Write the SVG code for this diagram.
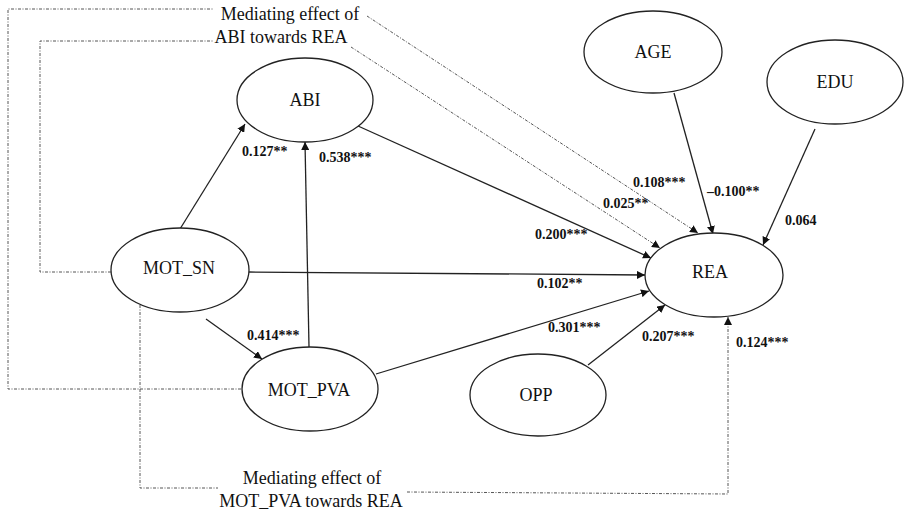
<svg xmlns="http://www.w3.org/2000/svg" width="904" height="511" viewBox="0 0 904 511">
<style>
.node ellipse{fill:#fff;stroke:#222;stroke-width:1.3}
.node text{font-family:"Liberation Serif","Times New Roman",serif;font-size:18px;fill:#111;text-anchor:middle}
.edge{stroke:#222;stroke-width:1.3;fill:none}
.dot{stroke:#555;stroke-width:1;fill:none;stroke-dasharray:3 1.5 1 1.5}
.coef{font-family:"Liberation Serif","Times New Roman",serif;font-size:14px;font-weight:bold;fill:#111}
.note{font-family:"Liberation Serif","Times New Roman",serif;font-size:18px;fill:#111;text-anchor:middle}
</style>
<defs>
<marker id="ah" viewBox="0 0 10 10" refX="10" refY="5" markerWidth="8" markerHeight="8" markerUnits="userSpaceOnUse" orient="auto"><path d="M0,0 L10,5 L0,10 z" fill="#111"/></marker>
</defs>
<rect width="904" height="511" fill="#fff"/>
<g id="connectors">
<line class="edge" x1="180" y1="229" x2="245" y2="124" marker-end="url(#ah)"/>
<line class="edge" x1="309" y1="347" x2="305" y2="142" marker-end="url(#ah)"/>
<line class="edge" x1="358" y1="126" x2="651" y2="258" marker-end="url(#ah)"/>
<line class="edge" x1="249" y1="272" x2="645" y2="275" marker-end="url(#ah)"/>
<line class="edge" x1="376" y1="374" x2="649" y2="291" marker-end="url(#ah)"/>
<line class="edge" x1="588" y1="365" x2="665" y2="305" marker-end="url(#ah)"/>
<line class="edge" x1="674" y1="93" x2="713" y2="234" marker-end="url(#ah)"/>
<line class="edge" x1="815" y1="129" x2="763" y2="245" marker-end="url(#ah)"/>
<line class="edge" x1="206" y1="319" x2="262" y2="359" marker-end="url(#ah)"/>
<polyline class="dot" points="241,389 8,389 8,9 214,9"/>
<line class="dot" x1="367" y1="16" x2="698" y2="233" marker-end="url(#ah)"/>
<polyline class="dot" points="111,272 40,272 40,41 214,41"/>
<line class="dot" x1="351" y1="47" x2="660" y2="248" marker-end="url(#ah)"/>
<polyline class="dot" points="140,305 140,488 218,488"/>
<polyline class="dot" points="407,492 728,494 728,317" marker-end="url(#ah)"/>
</g>
<g id="ABI" class="node"><ellipse cx="305" cy="100" rx="68" ry="42"/><text x="305" y="106">ABI</text></g>
<g id="AGE" class="node"><ellipse cx="653" cy="52" rx="69" ry="41"/><text x="653" y="58">AGE</text></g>
<g id="EDU" class="node"><ellipse cx="835" cy="82" rx="68" ry="42"/><text x="835" y="88">EDU</text></g>
<g id="REA" class="node"><ellipse cx="714" cy="275" rx="69" ry="42"/><text x="710" y="278">REA</text></g>
<g id="OPP" class="node"><ellipse cx="538" cy="395" rx="68" ry="41"/><text x="536" y="401">OPP</text></g>
<g id="MOT_SN" class="node"><ellipse cx="180" cy="270" rx="69" ry="42"/><text x="179" y="274">MOT_SN</text></g>
<g id="MOT_PVA" class="node"><ellipse cx="310" cy="389" rx="68" ry="42"/><text x="309" y="396">MOT_PVA</text></g>
<g id="labels">
<text class="coef" x="242" y="156">0.127**</text>
<text class="coef" x="319" y="162">0.538***</text>
<text class="coef" x="633" y="187">0.108***</text>
<text class="coef" x="603" y="208">0.025**</text>
<text class="coef" x="707" y="196">–0.100**</text>
<text class="coef" x="785" y="225">0.064</text>
<text class="coef" x="535" y="239">0.200***</text>
<text class="coef" x="537" y="288">0.102**</text>
<text class="coef" x="548" y="332">0.301***</text>
<text class="coef" x="642" y="341">0.207***</text>
<text class="coef" x="736" y="347">0.124***</text>
<text class="coef" x="247" y="340">0.414***</text>
<text class="note" x="290" y="20">Mediating effect of</text>
<text class="note" x="281" y="43">ABI towards REA</text>
<text class="note" x="312" y="484">Mediating effect of</text>
<text class="note" x="311" y="507">MOT_PVA towards REA</text>
</g>
</svg>
